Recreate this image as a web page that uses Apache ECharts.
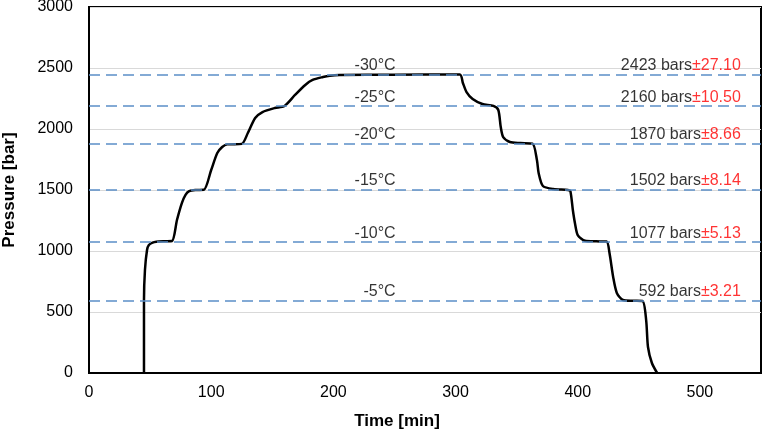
<!DOCTYPE html>
<html>
<head>
<meta charset="utf-8">
<script src="https://cdn.jsdelivr.net/npm/echarts@6/dist/echarts.min.js"></script>
<style>
html, body { margin: 0; padding: 0; background: #fff; }
#main { width: 763px; height: 431px; }
</style>
</head>
<body>
<div id="main"></div>
<script>
// pressure trace
var timeMin = [45, 45, 45, 45.8, 47.5, 49, 52, 55, 62, 68, 72, 76, 79, 82, 87, 94, 100, 105, 109, 113, 125,
  130, 136, 142, 152, 160, 168.6, 177, 183, 191.5, 197, 205, 250, 303.5, 306, 309, 314, 322, 331, 335, 337,
  339, 344.5, 353, 363, 366.6, 368, 371.5, 380, 392, 394, 396, 397.7, 400, 406, 415, 423.6, 426, 429, 432,
  437, 445, 453, 456, 457.5, 460.7, 465];
var pressureBar = [0, 300, 598, 844, 1008, 1049, 1068, 1076, 1080, 1082, 1254, 1393, 1460, 1490, 1500, 1502,
  1664, 1803, 1852, 1874, 1878, 1967, 2090, 2139, 2172, 2189, 2279, 2361, 2402, 2426, 2437, 2443, 2445, 2447,
  2377, 2303, 2246, 2205, 2189, 2156, 2016, 1934, 1893, 1885, 1880, 1746, 1639, 1533, 1508, 1500, 1490, 1336,
  1230, 1131, 1084, 1079, 1077, 983, 787, 656, 598, 592, 590, 434, 213, 82, 0];

// dashed plateau levels and their labels
var levels = [590, 1072, 1500, 1877, 2187, 2445];
var temps = ['-5°C', '-10°C', '-15°C', '-20°C', '-25°C', '-30°C'];
var meanBars = ['592', '1077', '1502', '1870', '2160', '2423'];
var errBars = ['±3.21', '±5.13', '±8.14', '±8.66', '±10.50', '±27.10'];

var xTicks = [0, 100, 200, 300, 400, 500];
var yTicks = [0, 500, 1000, 1500, 2000, 2500, 3000];

var tempX = 251;
var valX = 533.5;

var myChart = echarts.init(document.getElementById('main'));

var font = 'Liberation Sans, Arial, sans-serif';

myChart.setOption({
    animation: false,
    textStyle: { fontFamily: font },
    grid: {
        left: 89, right: 2, top: 7, bottom: 58,
        outerBoundsMode: 'none',
        containLabel: false,
        show: true, borderColor: '#000', borderWidth: 2
    },
    xAxis: {
        type: 'value',
        min: xTicks[0], max: 550, interval: 100,
        name: 'Time [min]',
        nameLocation: 'middle',
        nameGap: 40,
        nameTextStyle: { fontSize: 17, fontWeight: 'bold', color: '#000', padding: [0, 56, 0, 0] },
        axisLine: { lineStyle: { color: '#000', width: 2 } },
        axisTick: { show: false },
        axisLabel: {
            fontSize: 16, color: '#000', margin: 12,
            formatter: function (v) { return xTicks.indexOf(v) >= 0 ? String(v) : ''; }
        },
        splitLine: { show: false }
    },
    yAxis: {
        type: 'value',
        min: yTicks[0], max: yTicks[yTicks.length - 1], interval: 500,
        name: 'Pressure [bar]',
        nameLocation: 'middle',
        nameGap: 71,
        nameTextStyle: { fontSize: 17, fontWeight: 'bold', color: '#000' },
        axisLine: { lineStyle: { color: '#000', width: 2 } },
        axisTick: { show: false },
        axisLabel: {
            fontSize: 16, color: '#000', margin: 16,
            formatter: function (v) { return String(v); }
        },
        splitLine: { lineStyle: { color: '#d9d9d9', width: 1 } }
    },
    series: [
        {
            type: 'line',
            data: timeMin.map(function (t, i) { return [t, pressureBar[i]]; }),
            showSymbol: false,
            smooth: 0.25,
            lineStyle: { color: '#000', width: 2.5 },
            z: 2
        },
        {
            type: 'line',
            data: [],
            z: 3,
            markLine: {
                silent: true,
                symbol: 'none',
                label: { show: false },
                lineStyle: { color: '#5b8fc7', width: 1.6, type: [11, 6] },
                data: levels.map(function (v) { return { yAxis: v }; })
            }
        },
        {
            type: 'scatter',
            symbolSize: 0,
            z: 4,
            data: levels.map(function (v) { return [tempX, v]; }),
            label: {
                show: true,
                position: 'top',
                align: 'right',
                distance: 1,
                fontSize: 16,
                color: '#000',
                formatter: function (p) { return temps[p.dataIndex]; }
            }
        },
        {
            type: 'scatter',
            symbolSize: 0,
            z: 4,
            data: levels.map(function (v) { return [valX, v]; }),
            label: {
                show: true,
                position: 'top',
                align: 'right',
                distance: 1,
                fontSize: 16,
                color: '#000',
                formatter: function (p) {
                    return '{v|' + meanBars[p.dataIndex] + ' bars}{e|' + errBars[p.dataIndex] + '}';
                },
                rich: {
                    v: { fontSize: 16, color: '#000', fontFamily: font },
                    e: { fontSize: 16, color: '#ff0000', fontFamily: font }
                }
            }
        }
    ]
});
</script>
</body>
</html>
